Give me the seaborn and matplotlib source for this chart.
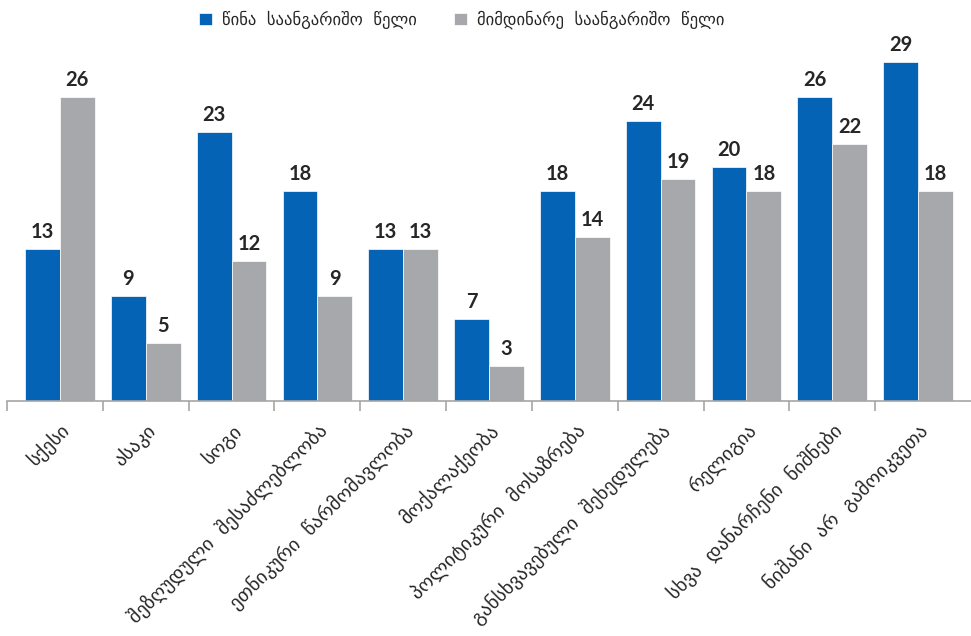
import pandas as pd
import numpy as np
import matplotlib
matplotlib.use("Agg")
import matplotlib.pyplot as plt
import seaborn as sns

categories = ["სქესი", "ასაკი", "სოგი", "შეზღუდული  შესაძლებლობა",
              "ეთნიკური  წარმომავლობა", "მოქალაქეობა", "პოლიტიკური  მოსაზრება",
              "განსხვავებული  შეხედულება", "რელიგია", "სხვა  დანარჩენი  ნიშნები",
              "ნიშანი  არ  გამოიკვეთა"]
prev_year = [13, 9, 23, 18, 13, 7, 18, 24, 20, 26, 29]
curr_year = [26, 5, 12, 9, 13, 3, 14, 19, 18, 22, 18]
series_names = ["წინა  საანგარიშო  წელი", "მიმდინარე  საანგარიშო  წელი"]

df = pd.DataFrame({
    "category": categories * 2,
    "value": prev_year + curr_year,
    "series": [series_names[0]] * len(categories) + [series_names[1]] * len(categories),
})

sns.set_style("white")
plt.rcParams['font.family'] = ['DejaVu Sans']

fig = plt.figure(figsize=(9.71, 6.36), dpi=100)
ax = fig.add_axes([7 / 971, (636 - 401) / 636, 964 / 971, 381 / 636])

palette = {series_names[0]: "#0563B5", series_names[1]: "#A7A8AC"}
sns.barplot(data=df, x="category", y="value", hue="series", palette=palette,
            width=0.81, saturation=1, ax=ax, legend=True,
            edgecolor='white', linewidth=0.5)

for c in ax.containers:
    ax.bar_label(c, padding=5, fontsize=14.5, fontweight='bold', color='#262626',
                 family=['Lato', 'DejaVu Sans'])

n = len(categories)
ax.set_ylim(0, 32.6)
ax.set_xlim(-0.617, n - 0.383)
ax.set_yticks([])
ax.set_xlabel("")
ax.set_ylabel("")
for s in ["top", "right", "left"]:
    ax.spines[s].set_visible(False)
ax.spines["bottom"].set_color("#A6A6A6")
ax.spines["bottom"].set_linewidth(1.2)

ax.set_xticks(range(n))
ax.set_xticklabels(categories, rotation=45, ha='right', rotation_mode='anchor',
                   fontsize=14, color='#262626')
ax.tick_params(axis='x', which='major', length=0, pad=14)
ax.set_xticks([-0.617] + list(np.arange(0.5, n - 1, 1)), minor=True)
ax.tick_params(axis='x', which='minor', length=7, color='#A6A6A6', width=1.2,
               direction='out', bottom=True)

leg = ax.legend(loc='center', bbox_to_anchor=(0.472, 1.0), ncol=2, frameon=False,
                fontsize=12, handlelength=0.8, handleheight=0.8, columnspacing=2.2,
                handletextpad=0.6)
for t in leg.get_texts():
    t.set_color('#262626')

fig.savefig("out.png", dpi=100)
